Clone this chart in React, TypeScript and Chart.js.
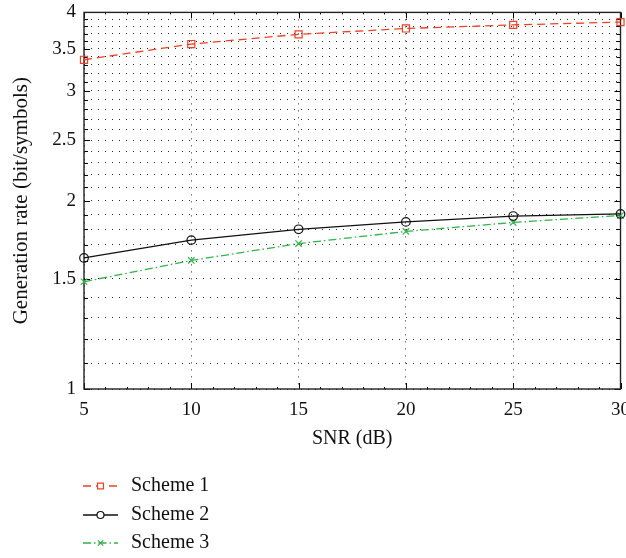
import React, { useEffect, useRef } from 'react';
import { Chart, registerables } from 'chart.js';

Chart.register(...registerables);

const snr = [5, 10, 15, 20, 25, 30];
const scheme1 = [3.36, 3.56, 3.69, 3.77, 3.82, 3.86];
const scheme2 = [1.62, 1.73, 1.8, 1.85, 1.89, 1.905];
const scheme3 = [1.484, 1.605, 1.708, 1.786, 1.846, 1.894];
const seriesNames = ['Scheme 1', 'Scheme 2', 'Scheme 3'];
const xTickValues = [5, 10, 15, 20, 25, 30];
const yTickLabels = [1, 1.5, 2, 2.5, 3, 3.5, 4];
const yGridValues = [
  1.0, 1.1, 1.2, 1.3, 1.4, 1.5, 1.6, 1.7, 1.8, 1.9,
  2.0, 2.1, 2.2, 2.3, 2.4, 2.5, 2.6, 2.7, 2.8, 2.9,
  3.0, 3.1, 3.2, 3.3, 3.4, 3.5, 3.6, 3.7, 3.8, 3.9, 4.0,
];
const xMinorTicks = [
  5, 6, 7, 8, 9, 10, 11, 12, 13, 14, 15, 16, 17, 18, 19, 20,
  21, 22, 23, 24, 25, 26, 27, 28, 29, 30,
];

const FONT = '"Liberation Serif", "DejaVu Serif", serif';
const RED = '#ee4027';
const BLACK = '#111111';
const GREEN = '#2fb34a';
const SHIFT = 7;

const isLabel = (v: number) => yTickLabels.some((t) => Math.abs(t - v) < 1e-6);

function drawMarker(ctx: CanvasRenderingContext2D, style: string, x: number, y: number, r: number) {
  ctx.beginPath();
  if (style === 'rect') {
    const s = Math.SQRT1_2 * r;
    ctx.rect(x - s, y - s, 2 * s, 2 * s);
    ctx.fillStyle = '#fff';
    ctx.fill();
  } else if (style === 'circle') {
    ctx.arc(x, y, r, 0, Math.PI * 2);
    ctx.fillStyle = '#fff';
    ctx.fill();
  } else {
    const d = Math.SQRT1_2 * r;
    ctx.moveTo(x - d, y - d);
    ctx.lineTo(x + d, y + d);
    ctx.moveTo(x + d, y - d);
    ctx.lineTo(x - d, y + d);
  }
  ctx.stroke();
}

const framePlugin = {
  id: 'frameTicks',
  beforeDatasetsDraw(chart: any) {
    const { ctx, chartArea: a, scales } = chart;
    const xs = scales.x;
    const ys = scales.y;
    ctx.save();
    ctx.setLineDash([]);
    ctx.strokeStyle = '#000';
    ctx.lineWidth = 1;
    ctx.beginPath();
    for (const v of yGridValues) {
      const py = Math.round(ys.getPixelForValue(v)) + 0.5;
      const len = isLabel(v) ? 6 : 4;
      ctx.moveTo(a.left, py);
      ctx.lineTo(a.left + len, py);
      ctx.moveTo(a.right, py);
      ctx.lineTo(a.right - len, py);
    }
    for (const v of xMinorTicks) {
      const px = Math.round(xs.getPixelForValue(v)) + 0.5;
      const len = v % 5 === 0 ? 6 : 2;
      ctx.moveTo(px, a.bottom);
      ctx.lineTo(px, a.bottom - len);
      ctx.moveTo(px, a.top);
      ctx.lineTo(px, a.top + len);
    }
    ctx.stroke();
    ctx.lineWidth = 1.4;
    ctx.strokeStyle = '#222';
    ctx.strokeRect(a.left, a.top, a.right - a.left, a.bottom - a.top);
    ctx.restore();
  },
  afterDraw(chart: any) {
    const { ctx } = chart;
    const rows = [486 + SHIFT, 515 + SHIFT, 543 + SHIFT];
    ctx.save();
    chart.data.datasets.forEach((ds: any, i: number) => {
      const y = rows[i];
      ctx.strokeStyle = ds.borderColor;
      ctx.lineWidth = ds.borderWidth;
      ctx.setLineDash(ds.borderDash || []);
      ctx.lineDashOffset = 0;
      ctx.beginPath();
      ctx.moveTo(83, y);
      ctx.lineTo(118, y);
      ctx.stroke();
      ctx.setLineDash([]);
      ctx.lineWidth = ds.pointBorderWidth;
      drawMarker(ctx, ds.pointStyle, 100.5, y, ds.pointRadius - 0.8);
      ctx.fillStyle = '#111';
      ctx.font = `20px ${FONT}`;
      ctx.textBaseline = 'middle';
      ctx.textAlign = 'left';
      ctx.fillText(ds.label, 131, y);
    });
    ctx.restore();
  },
};

export default function App() {
  const ref = useRef<HTMLCanvasElement | null>(null);

  useEffect(() => {
    if (!ref.current) return;
    const mk = (vals: number[]) => snr.map((x, i) => ({ x, y: vals[i] }));
    const chart = new Chart(ref.current, {
      type: 'line',
      data: {
        datasets: [
          {
            label: seriesNames[0],
            data: mk(scheme1),
            borderColor: RED,
            borderWidth: 1.3,
            borderDash: [8, 5],
            pointStyle: 'rect',
            pointRadius: 5,
            pointBorderWidth: 1.2,
            pointBackgroundColor: 'rgba(255,255,255,0)',
            pointBorderColor: RED,
            clip: false,
          },
          {
            label: seriesNames[1],
            data: mk(scheme2),
            borderColor: BLACK,
            borderWidth: 1.3,
            borderDash: [],
            pointStyle: 'circle',
            pointRadius: 4.3,
            pointBorderWidth: 1.2,
            pointBackgroundColor: 'rgba(255,255,255,0)',
            pointBorderColor: BLACK,
            clip: false,
          },
          {
            label: seriesNames[2],
            data: mk(scheme3),
            borderColor: GREEN,
            borderWidth: 1.3,
            borderDash: [8, 3, 1.5, 3],
            pointStyle: 'crossRot',
            pointRadius: 4.5,
            pointBorderWidth: 1.2,
            pointBackgroundColor: GREEN,
            pointBorderColor: GREEN,
            clip: false,
          },
        ] as any,
      },
      options: {
        responsive: false,
        animation: false,
        events: [],
        layout: { padding: { left: 0, right: 18, top: 0, bottom: 0 } },
        plugins: { legend: { display: false }, tooltip: { enabled: false } },
        elements: { line: { tension: 0 } },
        scales: {
          x: {
            type: 'linear',
            min: 5,
            max: 30,
            afterBuildTicks: (s: any) => {
              s.ticks = xTickValues.map((v) => ({ value: v }));
            },
            ticks: {
              font: { family: FONT, size: 19 },
              color: '#111',
              padding: 10,
              maxRotation: 0,
              autoSkip: false,
            },
            grid: { color: 'rgba(0,0,0,0.85)', lineWidth: 1, drawTicks: false },
            border: { display: false, dash: [1, 6] },
            title: {
              display: true,
              text: 'SNR (dB)',
              font: { family: FONT, size: 20 },
              color: '#111',
              padding: { top: 0, bottom: 107 + SHIFT },
            },
            afterFit: (s: any) => {
              s.height = 169 + SHIFT;
            },
          },
          y: {
            type: 'logarithmic',
            min: 1,
            max: 4,
            afterBuildTicks: (s: any) => {
              s.ticks = yGridValues.map((v) => ({ value: v }));
            },
            ticks: {
              font: { family: FONT, size: 19 },
              color: '#111',
              padding: 8,
              autoSkip: false,
              callback: (v: any) => {
                const n = Number(v);
                return isLabel(n) ? String(Math.round(n * 10) / 10) : '';
              },
            },
            grid: { color: 'rgba(0,0,0,0.85)', lineWidth: 1, drawTicks: false },
            border: { display: false, dash: [1, 6] },
            title: {
              display: true,
              text: 'Generation rate (bit/symbols)',
              font: { family: FONT, size: 21 },
              color: '#111',
              padding: { top: 9, bottom: 0 },
            },
            afterFit: (s: any) => {
              s.width = 84;
            },
          },
        },
      } as any,
      plugins: [framePlugin],
    });
    return () => chart.destroy();
  }, []);

  return (
    <div
      style={{
        position: 'absolute',
        left: 0,
        top: 0,
        width: 626,
        height: 558,
        overflow: 'hidden',
        background: '#fff',
      }}
    >
      <canvas
        ref={ref}
        width={640}
        height={558 + SHIFT * 2}
        style={{ display: 'block', marginTop: -SHIFT }}
      />
    </div>
  );
}
